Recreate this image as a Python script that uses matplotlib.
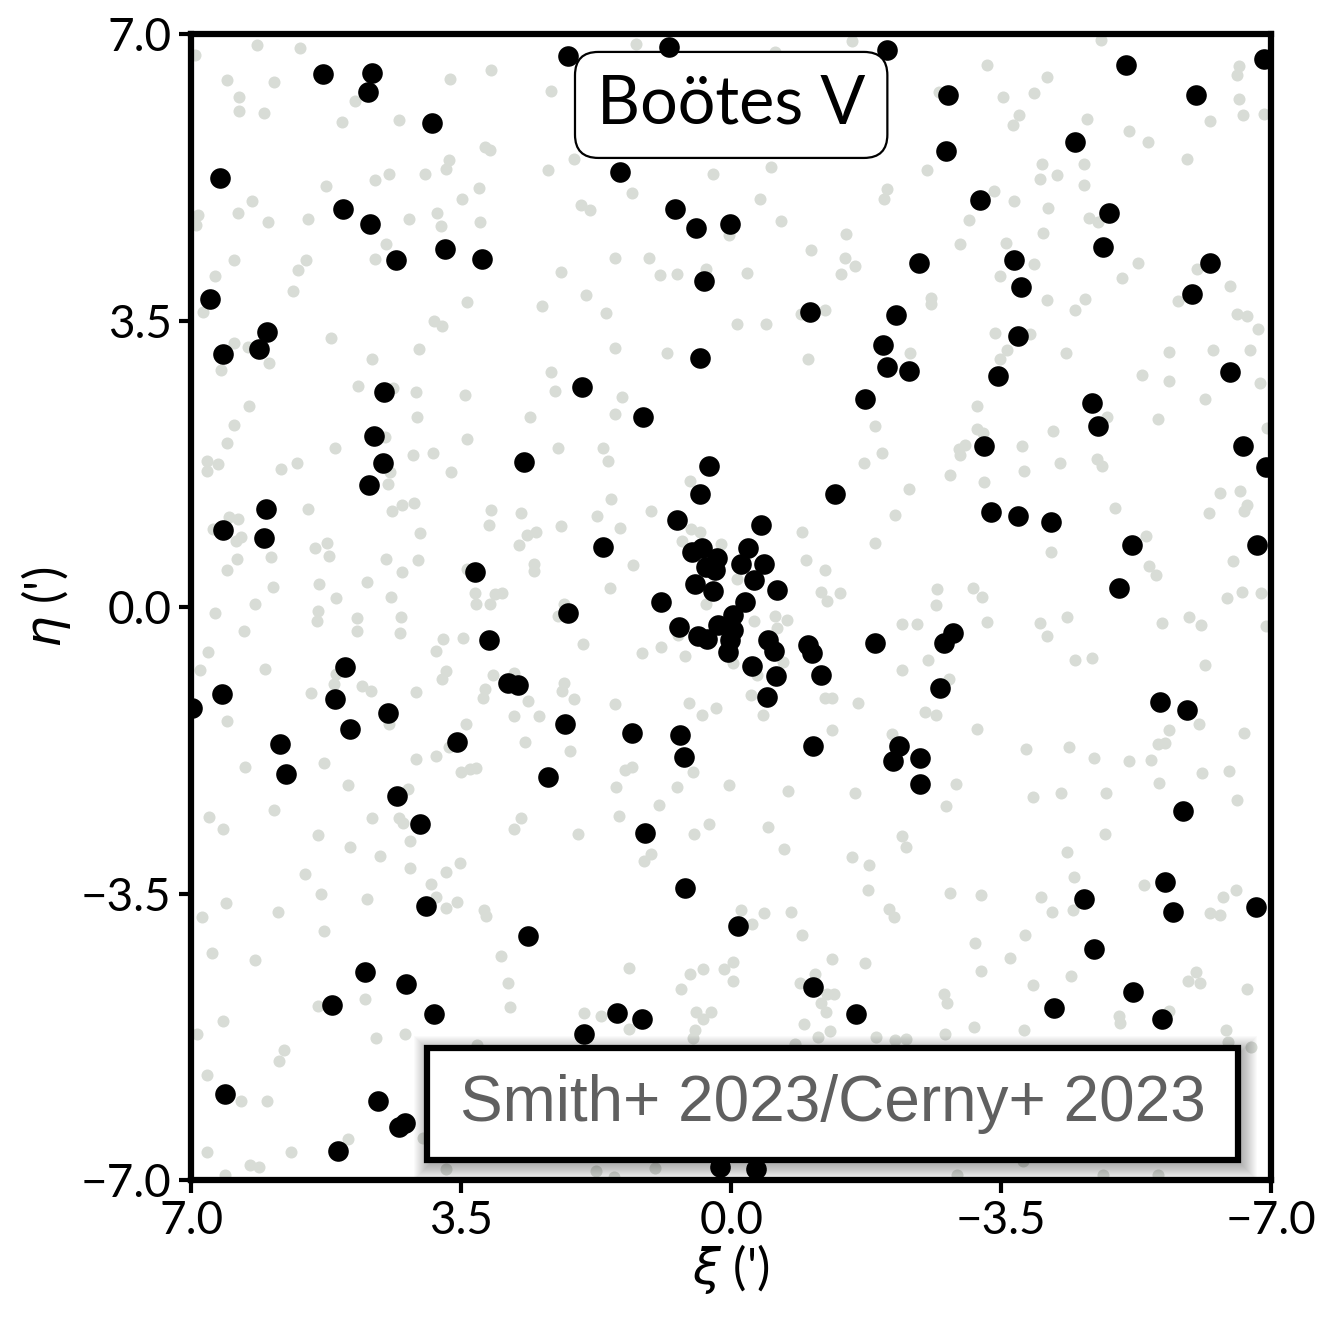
import numpy as np
import matplotlib
matplotlib.use('Agg')
import matplotlib.pyplot as plt
from matplotlib.patches import Rectangle

# field stars (light grey), xi / eta in arcmin
gray_stars = [
    (6.95, 6.75), (6.14, 6.87), (5.59, 6.84), (6.54, 6.44), (5.93, 6.42), (6.38, 6.23), (6.38, 6.06),
    (6.06, 6.04), (4.87, 6.19), (5.04, 5.93), (4.30, 5.95), (3.65, 6.45), (3.11, 6.56), (3.19, 5.62),
    (3.12, 5.59), (3.66, 5.47), (3.70, 5.36), (3.97, 5.29), (4.43, 5.29), (4.62, 5.22), (5.25, 5.15),
    (3.27, 5.13), (3.49, 4.99), (6.21, 4.97), (6.39, 4.82), (6.91, 4.80), (6.93, 4.67), (6.00, 4.71),
    (5.49, 4.75), (4.18, 4.75), (3.81, 4.82), (3.76, 4.66), (3.25, 4.71), (4.48, 4.44), (4.62, 4.26),
    (6.45, 4.25), (5.51, 4.25), (5.62, 4.12), (6.69, 4.05), (5.68, 3.87), (6.84, 3.61), (3.42, 3.73),
    (2.45, 3.68), (3.85, 3.50), (3.75, 3.44), (5.19, 3.29), (6.45, 3.23), (6.26, 3.18), (5.99, 2.98),
    (6.61, 2.90), (4.05, 3.16), (4.65, 3.03), (4.84, 2.71), (4.38, 2.68), (4.08, 2.63), (3.45, 2.60),
    (6.25, 2.46),
    (1.24, 6.88), (2.33, 6.31), (-0.57, 6.78), (-1.57, 6.92), (2.37, 5.34), (2.04, 5.48), (1.28, 5.06),
    (1.94, 4.92), (1.83, 4.85), (0.23, 5.29), (-0.52, 5.38), (-0.37, 4.99), (-0.64, 4.72), (0.03, 4.55),
    (-2.02, 5.11), (-1.98, 4.99), (-1.49, 4.56), (-1.04, 4.37), (-1.48, 4.27), (-1.60, 4.17),
    (-1.42, 4.07), (1.50, 4.27), (1.07, 4.27), (2.20, 4.10), (0.92, 4.06), (0.70, 4.07), (0.32, 4.14),
    (-0.21, 4.09), (1.88, 3.82), (1.62, 3.60), (-1.22, 3.63), (-0.90, 3.59), (-0.08, 3.46),
    (-0.45, 3.46), (1.50, 3.17), (0.83, 3.11), (-1.00, 3.04), (2.33, 2.88), (2.28, 2.64), (1.42, 2.57),
    (-4.79, 6.93), (-3.32, 6.63), (-2.69, 6.30), (-3.52, 6.24), (-3.92, 6.29), (-4.09, 6.48),
    (-3.73, 6.02), (-3.65, 5.89), (-4.61, 5.97), (-5.16, 5.82), (-5.40, 5.69), (-6.58, 6.61),
    (-6.56, 6.50), (-6.58, 6.21), (-6.64, 6.02), (-6.90, 6.03), (-6.20, 5.94), (-5.91, 5.48),
    (-4.03, 5.42), (-4.57, 5.42), (-4.22, 5.28), (-4.00, 5.23), (-4.57, 5.16), (-2.54, 5.34),
    (-3.40, 5.09), (-3.67, 4.97), (-4.10, 4.88), (-3.08, 4.73), (-4.64, 4.76), (-4.76, 4.71),
    (-4.04, 4.57), (-2.97, 4.44), (-3.56, 4.45), (-3.93, 4.20), (-3.48, 4.05), (-5.27, 4.21),
    (-5.06, 4.03), (-6.04, 4.13), (-5.79, 3.74), (-6.47, 3.93), (-2.59, 3.78), (-2.59, 3.71),
    (-4.09, 3.76), (-4.58, 3.77), (-4.46, 3.63), (-6.55, 3.59), (-6.69, 3.56), (-6.83, 3.40),
    (-3.42, 3.35), (-3.87, 3.34), (-3.58, 3.15), (-3.48, 3.04), (-2.32, 3.11), (-4.34, 3.11),
    (-5.68, 3.12), (-6.24, 3.15), (-6.72, 3.15), (-5.33, 2.84), (-5.67, 2.76), (-6.86, 2.74),
    (-6.14, 2.55), (-3.19, 2.46),
    (4.07, 2.32), (2.61, 2.33), (6.45, 2.23), (6.54, 2.01), (6.79, 1.79), (6.79, 1.67), (6.65, 1.75),
    (5.83, 1.69), (5.63, 1.76), (5.14, 1.95), (4.49, 2.08), (4.42, 1.65), (4.45, 1.51), (4.12, 1.86),
    (3.87, 1.88), (3.42, 2.06), (3.63, 1.65), (6.51, 1.10), (6.39, 1.08), (6.72, 0.96), (6.35, 0.86),
    (6.42, 0.81), (5.97, 0.62), (6.41, 0.59), (6.54, 0.45), (5.48, 1.20), (4.40, 1.18), (4.27, 1.25),
    (4.11, 1.28), (3.11, 1.19), (3.14, 1.00), (2.73, 1.15), (2.64, 0.88), (2.53, 0.92), (2.75, 0.76),
    (4.03, 0.91), (5.39, 0.72), (5.24, 0.79), (5.21, 0.63), (4.47, 0.59), (4.06, 0.58), (4.27, 0.43),
    (2.56, 0.53), (2.55, 0.44), (3.43, 0.47), (5.94, 0.25), (5.34, 0.29), (4.72, 0.31), (6.17, 0.04),
    (6.69, -0.07), (5.12, 0.11), (4.41, 0.12), (3.32, 0.18), (3.06, 0.16), (2.97, 0.17), (3.31, 0.04),
    (3.12, 0.04), (5.35, -0.05), (5.37, -0.17), (4.85, -0.13), (4.85, -0.29), (4.28, -0.12),
    (4.29, -0.32), (6.32, -0.29), (6.78, -0.55), (6.89, -0.76), (6.04, -0.75), (3.74, -0.39),
    (3.82, -0.53), (3.47, -0.37), (3.70, -0.78), (3.75, -0.88), (3.09, -0.83), (2.82, -0.80),
    (5.12, -0.81), (5.15, -0.94), (4.79, -0.96), (4.67, -1.02), (4.08, -1.03), (5.45, -1.05),
    (3.19, -1.00), (3.22, -1.11), (2.63, -1.15), (2.82, -1.33), (2.49, -1.33), (6.53, -1.39),
    (4.43, -1.42), (3.44, -1.43), (2.67, -1.64), (3.66, -1.71), (6.30, -1.95), (5.28, -1.90),
    (4.08, -1.85), (3.83, -1.82), (3.50, -2.01), (3.38, -1.97), (3.31, -1.96), (4.96, -2.17),
    (4.19, -2.22),
    (1.51, 2.36), (2.25, 1.95), (1.66, 1.95), (1.59, 1.79), (-1.86, 2.22), (-1.96, 1.88), (-1.72, 1.76),
    (0.54, 1.54), (1.56, 1.32), (1.74, 1.12), (2.21, 0.99), (1.44, 0.97), (1.04, 1.18), (-2.12, 1.13),
    (-0.92, 0.92), (-1.87, 0.78), (0.52, 0.96), (0.40, 0.92), (0.64, 0.81), (0.13, 0.77), (1.27, 0.52),
    (1.57, 0.23), (-0.97, 0.58), (-1.22, 0.46), (-1.17, 0.19), (-1.24, 0.08), (-1.41, 0.17),
    (-0.07, 0.35), (0.33, 0.04), (2.17, 0.04), (2.25, -0.11), (-0.29, -0.17), (-0.57, -0.11),
    (-0.72, -0.16), (-0.60, -0.25), (1.92, -0.45), (1.15, -0.56), (0.91, -0.48), (0.60, -0.59),
    (0.69, -0.34), (-0.03, -0.68), (-0.67, -0.67), (-0.34, -0.83), (-2.22, -0.20), (-2.21, -0.76),
    (2.17, -0.92), (2.19, -1.02), (2.04, -1.12), (1.50, -1.18), (0.55, -1.17), (0.20, -1.23),
    (0.38, -1.32), (-0.26, -1.07), (-0.41, -1.31), (-1.22, -1.11), (-1.31, -1.11), (-1.64, -1.17),
    (-1.31, -1.50), (-2.08, -1.55), (2.09, -1.75), (1.37, -1.99), (1.28, -1.95), (0.50, -2.01),
    (1.49, -2.20), (0.70, -2.20), (0.03, -2.17),
    (-3.19, 2.18), (-3.27, 2.13), (-2.95, 1.94), (-3.03, 1.98), (-2.97, 1.86), (-2.83, 1.62),
    (-2.31, 1.44), (-3.28, 1.53), (-3.77, 1.97), (-4.17, 2.15), (-4.26, 1.76), (-3.80, 1.66),
    (-4.74, 1.81), (-4.81, 1.73), (-4.87, 2.32), (-5.53, 2.30), (-6.94, 2.19), (-6.33, 1.40),
    (-6.59, 1.42), (-6.69, 1.25), (-6.65, 1.18), (-6.19, 1.15), (-4.98, 1.21), (-5.37, 0.87),
    (-5.41, 0.51), (-5.50, 0.40), (-4.15, 0.67), (-6.50, 0.56), (-6.42, 0.11), (-6.62, 0.19),
    (-6.87, 0.17), (-2.67, 0.22), (-2.66, 0.03), (-3.14, 0.24), (-3.25, 0.13), (-3.32, -0.18),
    (-2.41, -0.20), (-4.00, -0.19), (-4.09, -0.35), (-4.35, -0.12), (-5.58, -0.19), (-5.94, -0.12),
    (-6.09, -0.22), (-6.93, -0.23), (-2.55, -0.65), (-4.45, -0.65), (-4.68, -0.62), (-6.14, -0.71),
    (-2.82, -0.88), (-2.51, -1.28), (-2.66, -1.31), (-3.19, -1.49), (-3.82, -1.73), (-4.38, -1.71),
    (-4.70, -1.84), (-5.15, -1.88), (-5.44, -1.87), (-5.53, -1.67), (-5.62, -1.66), (-5.68, -1.50),
    (-6.06, -1.42), (-6.65, -1.53), (-6.10, -2.02), (-6.45, -2.00), (-5.55, -2.15), (-2.92, -2.16),
    (6.77, -2.56), (6.58, -2.71), (5.93, -2.48), (5.36, -2.78), (4.94, -2.93), (4.65, -2.58),
    (4.31, -2.58), (4.25, -2.64), (4.16, -2.85), (4.55, -3.04), (4.16, -3.19), (3.70, -3.23),
    (3.52, -3.12), (3.89, -3.38), (3.82, -3.54), (3.69, -3.67), (3.55, -3.60), (3.20, -3.70),
    (3.18, -3.77), (2.73, -2.58), (2.81, -2.71), (5.52, -3.26), (5.32, -3.50), (4.72, -3.57),
    (6.55, -3.61), (5.87, -3.72), (6.86, -3.79), (5.28, -3.96), (6.73, -4.22), (6.17, -4.31),
    (2.98, -4.26), (2.89, -4.59), (2.87, -4.88), (4.74, -4.79), (5.36, -4.87), (6.58, -5.05),
    (6.92, -5.22), (4.60, -5.26), (4.23, -5.21), (5.79, -5.41), (5.86, -5.54), (6.79, -5.72),
    (6.35, -6.03), (6.02, -6.03), (3.29, -5.35), (4.97, -6.50), (3.99, -6.48), (6.79, -6.66),
    (5.71, -6.66), (6.23, -6.81), (6.12, -6.84), (6.56, -6.94), (3.69, -6.86),
    (-0.74, -2.25), (-1.60, -2.27), (0.93, -2.41), (1.45, -2.55), (1.98, -2.77), (0.48, -2.77),
    (0.29, -2.65), (-0.48, -2.68), (-0.68, -2.95), (1.04, -3.02), (1.13, -3.10), (-1.56, -3.05),
    (-1.79, -3.15), (-1.77, -3.46), (-2.22, -2.80), (-2.26, -2.93), (-2.04, -3.69), (-2.11, -3.78),
    (-0.13, -3.70), (-0.27, -3.87), (-0.42, -3.73), (-0.77, -3.72), (-0.92, -4.01), (-1.31, -4.30),
    (-1.73, -4.35), (1.33, -4.41), (0.54, -4.48), (0.36, -4.42), (0.65, -4.66), (0.09, -4.42),
    (-0.02, -4.33), (-0.03, -4.57), (-0.89, -4.59), (-1.08, -4.48), (-1.16, -4.84), (-1.24, -4.72),
    (-1.33, -4.72), (-1.23, -4.94), (-0.94, -5.09), (-1.28, -5.18), (-1.12, -5.25), (-0.83, -5.34),
    (-1.88, -5.25), (-2.12, -5.29), (-2.27, -5.28), (1.91, -4.96), (1.69, -4.99), (1.32, -5.15),
    (0.45, -4.95), (0.26, -4.95), (0.37, -5.03), (0.47, -5.16), (0.50, -5.26), (1.75, -6.89),
    (0.99, -6.85), (1.52, -6.96),
    (-3.91, -2.32), (-4.28, -2.27), (-4.86, -2.27), (-2.78, -2.43), (-6.55, -2.36), (-4.85, -2.77),
    (-4.35, -2.99), (-4.44, -3.29), (-5.35, -3.39), (-2.84, -3.49), (-3.24, -3.52), (-4.01, -3.54),
    (-4.16, -3.72), (-4.43, -3.70), (-6.38, -3.54), (-6.54, -3.45), (-6.20, -3.73), (-6.33, -3.76),
    (-3.16, -4.10), (-3.81, -4.01), (-3.61, -4.28), (-3.24, -4.45), (-3.91, -4.61), (-4.41, -4.51),
    (-2.76, -4.72), (-2.80, -4.83), (-6.03, -4.46), (-5.92, -4.57), (-6.08, -4.59), (-6.69, -4.66),
    (-5.03, -4.99), (-5.04, -5.08), (-5.67, -4.93), (-3.15, -5.13), (-2.77, -5.21), (-3.79, -5.16),
    (-6.41, -5.16), (-6.44, -5.31), (-6.74, -5.37), (-2.93, -6.94), (-3.78, -6.77), (-4.82, -6.94),
    (-5.53, -6.94),
]

# candidate members (black)
members = [
    (5.29, 6.52), (4.66, 6.53), (4.71, 6.30), (3.88, 5.92), (6.63, 5.25), (5.03, 4.87), (4.68, 4.68),
    (4.35, 4.24), (3.71, 4.38), (3.23, 4.26), (6.76, 3.77), (6.01, 3.36), (6.12, 3.16), (6.58, 3.10),
    (4.50, 2.63),
    (2.11, 6.74), (0.80, 6.85), (-2.02, 6.81), (1.44, 5.32), (0.73, 4.87), (0.45, 4.64), (0.01, 4.68),
    (0.35, 3.99), (-1.02, 3.61), (-2.14, 3.57), (-1.97, 3.20), (-2.02, 2.94), (-2.30, 2.89),
    (0.40, 3.05), (1.93, 2.69), (-1.74, 2.55), (1.14, 2.33),
    (-5.12, 6.63), (-6.90, 6.70), (-2.81, 6.26), (-6.03, 6.26), (-2.79, 5.58), (-4.45, 5.68),
    (-3.22, 4.98), (-4.90, 4.82), (-4.82, 4.40), (-2.44, 4.21), (-3.67, 4.25), (-3.75, 3.92),
    (-6.21, 4.21), (-5.97, 3.83), (-3.72, 3.32), (-3.46, 2.83), (-6.46, 2.88), (-4.68, 2.50),
    (4.63, 2.09), (4.51, 1.76), (4.70, 1.49), (2.68, 1.78), (6.03, 1.20), (6.58, 0.95), (6.06, 0.85),
    (3.32, 0.43), (3.14, -0.40), (5.01, -0.73), (6.60, -1.06), (6.99, -1.23), (5.14, -1.12),
    (4.45, -1.29), (4.94, -1.49), (2.89, -0.93), (2.76, -0.95), (3.55, -1.65), (5.85, -1.67),
    (5.77, -2.04), (2.37, -2.07), (4.33, -2.31),
    (0.29, 1.73), (0.40, 1.38), (-1.35, 1.39), (0.70, 1.07), (-0.39, 1.00), (1.66, 0.74), (0.51, 0.68),
    (0.38, 0.73), (0.19, 0.60), (0.32, 0.49), (0.21, 0.46), (-0.22, 0.73), (-0.13, 0.53), (-0.43, 0.53),
    (-0.30, 0.33), (-0.60, 0.21), (0.47, 0.29), (0.23, 0.20), (-0.18, 0.07), (0.91, 0.07), (2.11, -0.07),
    (-0.03, -0.09), (0.67, -0.24), (0.17, -0.22), (0.43, -0.35), (0.31, -0.39), (-0.03, -0.28),
    (0.01, -0.40), (0.04, -0.55), (-0.48, -0.40), (-0.56, -0.53), (-1.00, -0.46), (-1.05, -0.56),
    (-1.87, -0.44), (-0.27, -0.72), (-0.58, -0.84), (-1.17, -0.83), (-0.47, -1.09), (2.15, -1.43),
    (1.28, -1.54), (0.66, -1.56), (0.61, -1.83), (-1.06, -1.69), (-2.17, -1.70), (-2.10, -1.88),
    (-4.76, 2.21), (-3.28, 1.97), (-6.64, 1.97), (-6.93, 1.71), (-3.37, 1.17), (-3.72, 1.11),
    (-4.15, 1.04), (-5.19, 0.76), (-6.81, 0.76), (-5.03, 0.23), (-2.88, -0.32), (-2.76, -0.44),
    (-2.71, -0.98), (-5.56, -1.16), (-5.91, -1.25), (-2.45, -1.84), (-2.45, -2.16),
    (4.03, -2.65), (3.96, -3.65), (2.63, -4.02), (4.75, -4.46), (5.18, -4.86), (4.22, -4.60),
    (3.85, -4.97), (6.56, -5.95), (4.58, -6.03), (4.23, -6.30), (4.31, -6.35), (5.10, -6.64),
    (1.12, -2.76), (0.60, -3.43), (-0.09, -3.90), (-1.06, -4.64), (-1.62, -4.97), (1.48, -4.96),
    (1.15, -5.03), (1.91, -5.21), (0.14, -6.84), (-0.32, -6.86),
    (-5.86, -2.49), (-5.62, -3.36), (-5.72, -3.72), (-6.80, -3.66), (-4.57, -3.57), (-4.70, -4.18),
    (-5.21, -4.70), (-4.18, -4.90), (-5.59, -5.03),
]

ticks = [7.0, 3.5, 0.0, -3.5, -7.0]
tick_labels = ['7.0', '3.5', '0.0', '\u22123.5', '\u22127.0']
title = 'Bo\u00f6tes V'
source = 'Smith+ 2023/Cerny+ 2023'

plt.rcParams['font.family'] = ['Lato', 'DejaVu Sans']

fig = plt.figure(figsize=(13.27, 13.26), dpi=100)
ax = fig.add_axes([0.144, 0.110, 0.814, 0.864])

gray = np.array(gray_stars)
memb = np.array(members)
ax.scatter(gray[:, 0], gray[:, 1], s=75, color='#d8dcd6', linewidths=0, zorder=1)
ax.scatter(memb[:, 0], memb[:, 1], s=220, color='black', linewidths=0, zorder=3)

ax.set_xlim(7, -7)
ax.set_ylim(-7, 7)
ax.set_xticks(ticks)
ax.set_xticklabels(tick_labels)
ax.set_yticks(ticks)
ax.set_yticklabels(tick_labels)
ax.tick_params(direction='out', length=9, width=3, labelsize=33, pad=5)
for sp in ax.spines.values():
    sp.set_linewidth(4.5)

ax.set_xlabel(r"$\xi$ (')", fontsize=36, labelpad=0)
ax.set_ylabel(r"$\eta$ (')", fontsize=36, labelpad=6)

# title box
ax.text(0.5, 0.9385, title, transform=ax.transAxes, ha='center', va='center', fontsize=48,
        bbox=dict(boxstyle='round,pad=0.33,rounding_size=0.35', fc='white', ec='black', lw=1.6),
        zorder=2)

# source box with a soft shadow
bx, by, bw, bh = 0.2185, 0.0175, 0.7505, 0.0977
px, py = 1 / 1080, 1 / 1146
for i in range(16, 0, -1):
    ax.add_patch(Rectangle((bx - i * px + 3 * px, by - i * py - 4 * py), bw + 2 * i * px, bh + 2 * i * py,
                           transform=ax.transAxes, facecolor='black', edgecolor='none',
                           alpha=0.02, zorder=9))
ax.add_patch(Rectangle((bx, by), bw, bh, transform=ax.transAxes, facecolor='white',
                       edgecolor='black', linewidth=4.5, zorder=10))
ax.text(bx + bw / 2, by + bh / 2, source, transform=ax.transAxes, ha='center', va='center',
        fontsize=46, color='#606060', family=['Liberation Sans', 'DejaVu Sans'], zorder=11)

fig.savefig('out.png', dpi=100)
